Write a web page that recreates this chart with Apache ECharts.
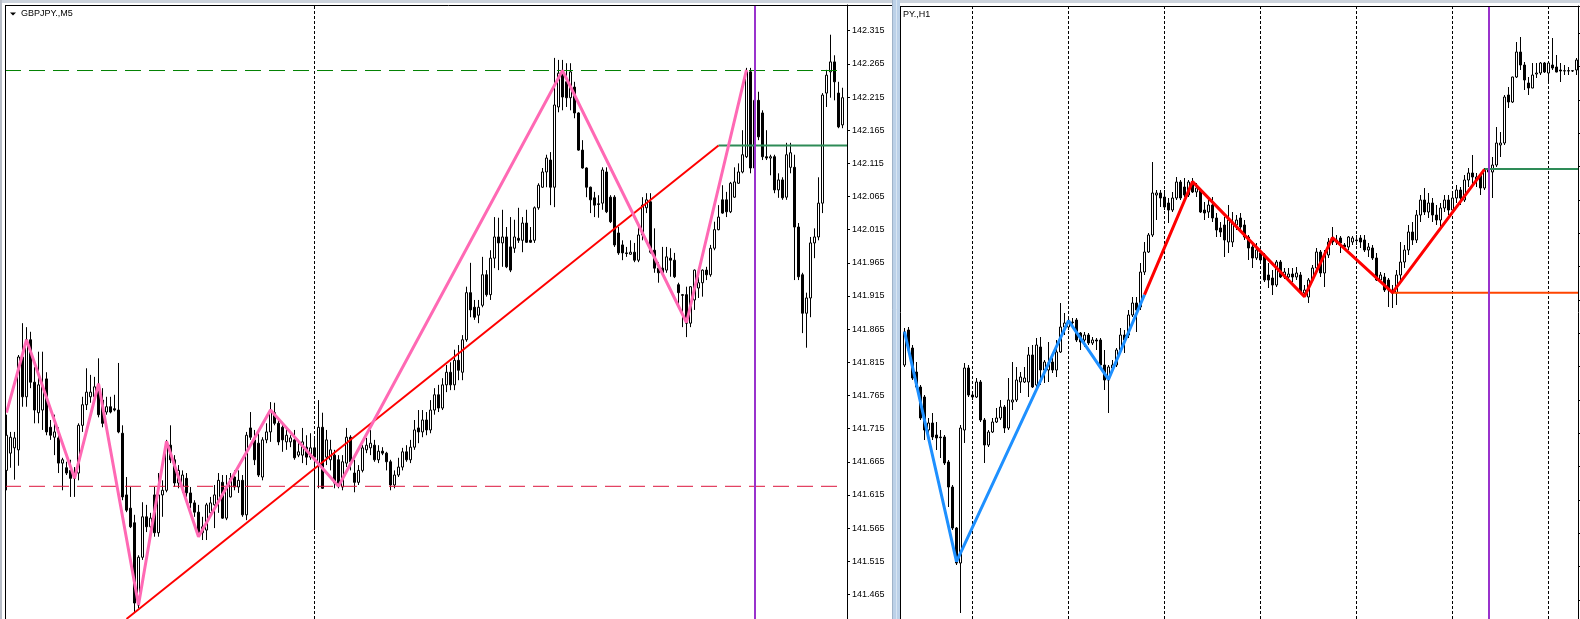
<!DOCTYPE html>
<html><head><meta charset="utf-8">
<script src="https://cdn.jsdelivr.net/npm/echarts@6/dist/echarts.min.js"></script>
<style>html,body{margin:0;padding:0;background:#fff;}#c{width:1580px;height:619px;}</style>
</head><body><div id="c"></div>
<script>
// ---------- LEFT PANEL: GBPJPY M5 ----------
const leftOpen = [141.652,141.678,141.686,141.683,141.823,141.763,141.849,141.785,141.739,141.743,141.790,141.717,141.702,141.701,141.663,141.656,141.652,141.640,141.648,141.720,141.751,141.763,141.763,141.781,141.758,141.740,141.748,141.745,141.743,141.708,141.615,141.595,141.573,141.449,141.521,141.582,141.567,141.615,141.558,141.615,141.622,141.690,141.668,141.633,141.627,141.640,141.618,141.603,141.589,141.558,141.562,141.588,141.600,141.607,141.634,141.580,141.612,141.642,141.627,141.637,141.585,141.716,141.698,141.693,141.642,141.698,141.710,141.739,141.723,141.717,141.695,141.695,141.698,141.675,141.675,141.687,141.672,141.686,141.663,141.717,141.672,141.668,141.675,141.668,141.627,141.663,141.702,141.648,141.634,141.652,141.683,141.686,141.690,141.668,141.681,141.678,141.665,141.630,141.645,141.657,141.680,141.668,141.687,141.716,141.710,141.728,141.713,141.743,141.766,141.746,141.781,141.800,141.781,141.818,141.800,141.849,141.920,141.898,141.886,141.901,141.947,141.917,141.972,142.004,141.995,142.004,141.989,141.987,142.002,141.999,142.025,141.999,141.999,142.048,142.079,142.102,142.120,142.079,142.200,142.251,142.238,142.214,142.230,142.191,142.135,142.108,142.079,142.063,142.054,142.055,142.102,142.064,142.064,142.010,141.992,141.980,141.978,141.981,141.969,142.007,142.048,142.057,141.984,141.957,141.957,141.954,141.972,141.969,141.932,141.917,141.917,141.874,141.909,141.927,141.935,141.954,141.947,141.987,142.015,142.060,142.060,142.042,142.064,142.085,142.102,142.125,142.253,142.108,142.210,142.191,142.125,142.123,142.125,142.075,142.090,142.064,142.109,142.109,142.019,141.947,141.889,141.912,141.995,142.004,142.055,142.221,142.253,142.268,142.221,142.173];
const leftClose = [141.705,141.702,141.701,141.823,141.763,141.849,141.785,141.743,141.781,141.779,141.710,141.705,141.710,141.663,141.668,141.648,141.640,141.648,141.720,141.751,141.770,141.770,141.778,141.736,141.723,141.748,141.740,141.743,141.710,141.612,141.592,141.567,141.452,141.521,141.582,141.567,141.580,141.558,141.615,141.622,141.690,141.668,141.633,141.652,141.645,141.618,141.603,141.589,141.558,141.567,141.600,141.603,141.615,141.637,141.580,141.627,141.640,141.627,141.637,141.585,141.705,141.702,141.668,141.645,141.698,141.710,141.743,141.723,141.695,141.698,141.705,141.701,141.671,141.680,141.695,141.672,141.686,141.672,141.717,141.625,141.698,141.683,141.633,141.630,141.665,141.702,141.665,141.634,141.652,141.686,141.690,141.693,141.668,141.681,141.678,141.665,141.630,141.645,141.657,141.680,141.668,141.687,141.713,141.710,141.728,141.713,141.743,141.766,141.746,141.781,141.800,141.781,141.818,141.803,141.849,141.920,141.894,141.883,141.898,141.947,141.917,141.972,142.004,141.995,142.004,141.959,141.954,142.004,141.999,142.025,141.996,141.996,142.048,142.082,142.102,142.123,142.079,142.203,142.251,142.215,142.214,142.253,142.191,142.135,142.108,142.079,142.060,142.052,142.053,142.105,142.042,142.027,141.992,141.980,141.980,141.979,141.981,141.969,142.007,142.052,142.060,141.981,141.957,141.950,141.950,141.974,141.969,141.944,141.920,141.916,141.874,141.929,141.954,141.935,141.954,141.947,141.987,142.015,142.034,142.040,142.042,142.085,142.087,142.102,142.128,142.253,142.108,142.210,142.155,142.125,142.123,142.125,142.075,142.090,142.063,142.128,142.131,142.019,141.944,141.889,141.912,141.995,142.004,142.055,142.218,142.248,142.268,142.238,142.170,142.214];
const leftLow = [141.622,141.656,141.638,141.659,141.748,141.748,141.776,141.723,141.723,141.713,141.705,141.698,141.675,141.648,141.622,141.645,141.612,141.612,141.637,141.710,141.743,141.754,141.758,141.732,141.717,141.736,141.738,141.741,141.708,141.607,141.589,141.565,141.438,141.444,141.517,141.559,141.552,141.552,141.552,141.582,141.619,141.663,141.627,141.625,141.618,141.612,141.595,141.582,141.552,141.547,141.547,141.582,141.565,141.588,141.579,141.577,141.611,141.622,141.618,141.582,141.577,141.698,141.660,141.642,141.637,141.693,141.695,141.720,141.690,141.680,141.683,141.687,141.668,141.672,141.663,141.660,141.668,141.562,141.625,141.624,141.660,141.652,141.625,141.625,141.622,141.657,141.652,141.619,141.630,141.649,141.678,141.675,141.665,141.663,141.675,141.652,141.622,141.625,141.642,141.652,141.665,141.663,141.683,141.693,141.702,141.705,141.708,141.736,141.740,141.743,141.770,141.773,141.773,141.788,141.788,141.846,141.883,141.879,141.874,141.898,141.914,141.909,141.957,141.954,141.959,141.957,141.951,141.980,141.995,141.981,141.995,141.995,141.995,142.045,142.078,142.079,142.052,142.049,142.192,142.195,142.200,142.195,142.183,142.134,142.107,142.064,142.040,142.034,142.033,142.045,142.040,142.025,141.989,141.977,141.969,141.974,141.977,141.966,141.966,141.999,142.040,141.979,141.950,141.935,141.949,141.950,141.944,141.942,141.898,141.868,141.853,141.868,141.894,141.912,141.914,141.939,141.944,141.984,142.014,142.039,142.034,142.040,142.063,142.084,142.100,142.123,142.100,142.105,142.150,142.120,142.120,142.097,142.070,142.063,142.060,142.060,142.100,141.939,141.939,141.859,141.837,141.883,141.972,141.999,142.040,142.200,142.214,142.210,142.168,142.168];
const leftHigh = [141.736,141.710,141.710,141.826,141.874,141.868,141.861,141.808,141.831,141.831,141.800,141.728,141.736,141.717,141.671,141.665,141.668,141.657,141.723,141.763,141.806,141.796,141.793,141.821,141.776,141.763,141.763,141.766,141.814,141.720,141.642,141.627,141.585,141.524,141.604,141.600,141.588,141.627,141.648,141.637,141.698,141.720,141.675,141.660,141.652,141.648,141.627,141.607,141.600,141.582,141.603,141.612,141.630,141.648,141.645,141.645,141.648,141.652,141.652,141.645,141.710,141.740,141.713,141.708,141.702,141.723,141.755,141.754,141.732,141.725,141.717,141.705,141.713,141.698,141.716,141.705,141.708,141.702,141.758,141.739,141.713,141.698,141.683,141.675,141.675,141.716,141.705,141.668,141.660,141.690,141.701,141.713,141.698,141.690,141.687,141.680,141.668,141.652,141.671,141.686,141.690,141.698,141.728,141.743,141.743,141.740,141.758,141.776,141.781,141.791,141.811,141.815,141.834,141.841,141.856,141.929,141.965,141.909,141.909,141.974,141.954,141.984,142.034,142.033,142.045,142.019,142.034,142.030,142.048,142.034,142.045,142.019,142.050,142.085,142.108,142.128,142.132,142.274,142.271,142.271,142.266,142.266,142.238,142.192,142.150,142.109,142.080,142.072,142.067,142.109,142.109,142.067,142.067,142.019,141.999,141.989,141.999,141.995,142.022,142.064,142.070,142.070,142.017,141.966,141.989,141.989,141.987,141.980,141.935,141.918,141.929,141.930,141.955,141.944,141.955,141.959,141.992,142.027,142.052,142.082,142.072,142.087,142.109,142.115,142.165,142.259,142.259,142.253,142.223,142.195,142.165,142.128,142.128,142.100,142.094,142.146,142.146,142.128,142.025,141.950,141.920,142.004,142.017,142.094,142.221,142.256,142.309,142.278,142.238,142.229];
const leftPriceTicks = [141.465,141.515,141.565,141.615,141.665,141.715,141.765,141.815,141.865,141.915,141.965,142.015,142.065,142.115,142.165,142.215,142.265,142.315];
const leftZigzag = [[0,141.739],[5,141.849],[17,141.640],[23,141.783],[33,141.449],[40,141.696],[48,141.552],[66,141.743],[83,141.628],[139,142.255],[170,141.875],[185,142.256]];
const leftTrend = [[30,141.428],[178,142.142]];
const leftLevelSolid = 142.142;   // green solid, from bar 178 to edge
const leftLevelHigh = 142.255;    // green dashed
const leftLevelLow = 141.628;     // red dashed
const leftSeparators = [77];
const leftMarker = [187];

// ---------- RIGHT PANEL: GBPJPY H1 ----------
const rightOpen = [141.505,141.610,141.556,141.484,141.439,141.409,141.310,141.331,141.295,141.289,141.289,141.214,141.139,141.016,140.911,141.310,141.496,141.415,141.409,141.454,141.340,141.265,141.304,141.334,141.346,141.379,141.316,141.394,141.400,141.454,141.454,141.454,141.535,141.445,141.559,141.490,141.490,141.514,141.490,141.544,141.619,141.619,141.634,141.640,141.601,141.580,141.595,141.571,141.580,141.580,141.505,141.460,141.496,141.505,141.550,141.595,141.595,141.655,141.691,141.679,141.784,141.844,141.895,142.015,142.021,142.009,141.991,141.970,142.006,142.054,142.039,142.015,142.054,142.024,142.030,141.970,141.964,141.985,141.946,141.916,141.925,141.874,141.874,141.925,141.946,141.925,141.889,141.859,141.826,141.841,141.835,141.775,141.766,141.745,141.814,141.769,141.769,141.778,141.769,141.775,141.721,141.709,141.760,141.796,141.844,141.781,141.835,141.886,141.874,141.886,141.865,141.859,141.874,141.880,141.886,141.880,141.850,141.856,141.826,141.760,141.769,141.760,141.730,141.721,141.775,141.814,141.850,141.904,141.880,141.955,142.000,141.964,141.991,141.955,141.940,141.976,142.000,141.970,142.006,142.030,142.000,142.060,142.081,142.060,142.075,142.036,142.093,142.084,142.105,142.165,142.171,142.315,142.294,142.369,142.444,142.405,142.351,142.336,142.378,142.381,142.411,142.381,142.405,142.399,142.390,142.387,142.388,142.387,142.390];
const rightClose = [141.604,141.550,141.466,141.439,141.346,141.310,141.331,141.289,141.286,141.287,141.211,141.139,141.016,140.911,141.316,141.496,141.415,141.409,141.454,141.340,141.265,141.304,141.334,141.346,141.379,141.316,141.400,141.400,141.460,141.469,141.466,141.535,141.439,141.565,141.490,141.514,141.511,141.490,141.544,141.619,141.631,141.634,141.632,141.580,141.574,141.595,141.571,141.580,141.577,141.505,141.460,141.499,141.505,141.550,141.595,141.580,141.655,141.691,141.670,141.784,141.844,141.895,142.021,142.021,142.006,141.979,141.970,142.006,142.054,142.006,142.015,142.054,142.024,142.036,141.964,141.961,141.985,141.946,141.910,141.904,141.880,141.940,141.934,141.940,141.919,141.889,141.856,141.826,141.850,141.820,141.760,141.760,141.745,141.814,141.769,141.784,141.778,141.769,141.781,141.724,141.730,141.760,141.796,141.844,141.781,141.835,141.874,141.874,141.880,141.871,141.859,141.889,141.886,141.878,141.874,141.850,141.859,141.826,141.760,141.775,141.730,141.730,141.721,141.775,141.814,141.850,141.904,141.880,141.955,142.000,141.964,141.991,141.955,141.940,141.976,142.000,141.970,142.006,142.030,142.006,142.060,142.081,142.069,142.069,142.036,142.090,142.084,142.105,142.171,142.171,142.309,142.294,142.369,142.444,142.405,142.360,142.336,142.375,142.381,142.411,142.384,142.411,142.396,142.384,142.387,142.388,142.387,142.388,142.420];
const rightLow = [141.499,141.541,141.460,141.436,141.340,141.280,141.280,141.280,141.250,141.226,141.205,141.079,141.010,140.905,140.761,141.271,141.409,141.400,141.406,141.334,141.211,141.259,141.301,141.331,141.340,141.301,141.310,141.370,141.394,141.421,141.451,141.409,141.436,141.439,141.445,141.451,141.454,141.481,141.469,141.541,141.595,141.610,141.616,141.574,141.550,141.559,141.565,141.565,141.550,141.499,141.430,141.361,141.490,141.499,141.544,141.541,141.586,141.649,141.604,141.670,141.775,141.841,141.889,141.940,141.979,141.970,141.931,141.964,142.000,142.000,142.009,142.009,142.021,142.009,141.961,141.940,141.946,141.934,141.889,141.889,141.829,141.841,141.859,141.910,141.910,141.880,141.820,141.796,141.820,141.814,141.754,141.736,141.715,141.739,141.766,141.763,141.760,141.754,141.760,141.721,141.709,141.691,141.754,141.784,141.769,141.739,141.826,141.865,141.865,141.841,141.850,141.850,141.865,141.865,141.856,141.844,141.829,141.820,141.757,141.751,141.724,141.679,141.676,141.685,141.760,141.796,141.835,141.865,141.871,141.934,141.955,141.946,141.934,141.925,141.916,141.964,141.955,141.961,141.991,141.985,141.994,142.039,142.039,142.039,142.015,142.030,142.000,142.006,142.099,142.129,142.165,142.276,142.291,142.366,142.390,142.330,142.315,142.335,142.366,142.375,142.381,142.354,142.390,142.383,142.354,142.375,142.375,142.384,142.375];
const rightHigh = [141.616,141.619,141.565,141.514,141.445,141.415,141.346,141.361,141.334,141.310,141.295,141.220,141.145,141.019,141.325,141.511,141.505,141.421,141.466,141.460,141.346,141.310,141.346,141.376,141.400,141.385,141.466,141.514,141.499,141.484,141.499,141.559,141.565,141.586,141.589,141.520,141.574,141.526,141.580,141.691,141.661,141.643,141.646,141.646,141.604,141.604,141.601,141.589,141.586,141.586,141.550,141.505,141.520,141.556,141.616,141.610,141.670,141.709,141.709,141.811,141.874,141.901,142.114,142.030,142.030,142.030,142.006,142.024,142.069,142.060,142.066,142.060,142.066,142.051,142.036,141.994,142.000,142.009,141.961,141.934,141.949,141.985,141.964,141.955,141.961,141.940,141.895,141.874,141.871,141.850,141.841,141.811,141.790,141.820,141.820,141.796,141.796,141.796,141.799,141.784,141.745,141.766,141.805,141.856,141.850,141.850,141.886,141.919,141.895,141.892,141.871,141.892,141.892,141.895,141.895,141.895,141.871,141.865,141.841,141.784,141.781,141.766,141.745,141.790,141.874,141.865,141.925,141.934,141.970,142.015,142.036,142.021,142.006,141.985,141.991,142.015,142.015,142.024,142.045,142.039,142.075,142.096,142.135,142.081,142.081,142.096,142.129,142.129,142.219,142.204,142.315,142.339,142.370,142.474,142.489,142.414,142.369,142.411,142.411,142.414,142.414,142.414,142.486,142.435,142.411,142.405,142.399,142.390,142.426];
const rightPriceTicks = [140.8,140.9,141.0,141.1,141.2,141.3,141.4,141.5,141.6,141.7,141.8,141.9,142.0,142.1,142.2,142.3,142.4,142.5];
const rightZigzagBlue = [[0,141.605],[13,140.915],[41,141.638],[51,141.462],[60,141.716]];
const rightZigzagRed = [[60,141.716],[72,142.055],[100,141.710],[107,141.887],[122,141.722],[145,142.092]];
const rightLevelGreen = 142.093;  // from bar 145
const rightLevelRed = 141.722;    // from bar 122
const rightSeparators = [17,41,65,89,113,137,161];
const rightMarker = [146];

// ---------- build ----------
const LX = [-0.375, 210.125];
const RX = [-0.875, 168.375];
const leftCandles = leftOpen.map((o, i) => [i, o, leftClose[i], leftLow[i], leftHigh[i]]);
const rightCandles = rightOpen.map((o, i) => [i, o, rightClose[i], rightLow[i], rightHigh[i]]);

const candleStyle = {color:'#ffffff', color0:'#000000', borderColor:'#000000', borderColor0:'#000000', borderColorDoji:'#000000', borderWidth:1};
function lineSeries(ax, data, color, width, dash, z) {
  return {type:'line', xAxisIndex:ax, yAxisIndex:ax, data:data, symbol:'none', showSymbol:false, silent:true, clip:true, z:z,
    lineStyle:{color:color, width:width, type:dash || 'solid'}, animation:false};
}
function vlines(ax, bars, color, width, dash, z) {
  return {type:'line', xAxisIndex:ax, yAxisIndex:ax, data:[], silent:true, z:z,
    markLine:{silent:true, symbol:['none','none'], animation:false, z:z, label:{show:false},
      lineStyle:{color:color, width:width, type:dash}, emphasis:{disabled:true},
      data:bars.map(b => ({xAxis:b}))}};
}
const font = 'Liberation Sans';
const chart = echarts.init(document.getElementById('c'), null, {renderer:'canvas'});
chart.setOption({
  animation:false,
  backgroundColor:'#ffffff',
  grid:[
    {left:5, top:5, width:842, height:614, show:false},
    {left:901, top:6, width:677, height:613, show:false}
  ],
  xAxis:[
    {type:'value', gridIndex:0, min:LX[0], max:LX[1], show:false},
    {type:'value', gridIndex:1, min:RX[0], max:RX[1], show:false}
  ],
  yAxis:[
    {type:'value', gridIndex:0, position:'right', min:141.4279, max:142.3538, scale:true,
     axisLine:{show:true, onZero:false, lineStyle:{color:'#000', width:1}},
     axisTick:{show:true, length:3, inside:false, customValues:leftPriceTicks, lineStyle:{color:'#000'}},
     axisLabel:{show:true, customValues:leftPriceTicks, margin:5, color:'#000', fontFamily:font, fontSize:9,
       formatter:v => Number(v).toFixed(3)},
     splitLine:{show:false}},
    {type:'value', gridIndex:1, position:'right', min:140.743, max:142.582, scale:true,
     axisLine:{show:true, onZero:false, lineStyle:{color:'#000', width:1}},
     axisTick:{show:true, length:3, inside:false, customValues:rightPriceTicks, lineStyle:{color:'#000'}},
     axisLabel:{show:false},
     splitLine:{show:false}}
  ],
  series:[
    vlines(0, leftSeparators, '#000', 1, [3,2], 1),
    vlines(1, rightSeparators, '#000', 1, [3,2], 1),
    {type:'candlestick', xAxisIndex:0, yAxisIndex:0, data:leftCandles, encode:{x:0, y:[1,2,3,4]},
     barWidth:2, itemStyle:candleStyle, clip:true, silent:true, z:2, animation:false},
    {type:'candlestick', xAxisIndex:1, yAxisIndex:1, data:rightCandles, encode:{x:0, y:[1,2,3,4]},
     barWidth:2, itemStyle:candleStyle, clip:true, silent:true, z:2, animation:false},
    lineSeries(0, [[LX[0], leftLevelHigh],[208, leftLevelHigh]], '#008000', 1, [16,8], 3),
    lineSeries(0, [[LX[0], leftLevelLow],[208.5, leftLevelLow]], '#dc143c', 1, [16,8], 3),
    lineSeries(0, [[178, leftLevelSolid],[LX[1], leftLevelSolid]], '#2e8b57', 2, 'solid', 3),
    lineSeries(0, leftTrend, '#ff0000', 2, 'solid', 4),
    lineSeries(0, leftZigzag, '#ff69b4', 3, 'solid', 5),
    lineSeries(1, [[145, rightLevelGreen],[RX[1], rightLevelGreen]], '#2e8b57', 2, 'solid', 3),
    lineSeries(1, [[122, rightLevelRed],[RX[1], rightLevelRed]], '#ff4500', 2, 'solid', 3),
    lineSeries(1, rightZigzagBlue, '#1e90ff', 3, 'solid', 5),
    lineSeries(1, rightZigzagRed, '#ff0000', 3, 'solid', 5),
    vlines(0, leftMarker, '#9932cc', 2, 'solid', 6),
    vlines(1, rightMarker, '#9932cc', 2, 'solid', 6)
  ],
  graphic:[
    {type:'rect', shape:{x:0, y:0, width:1580, height:3}, style:{fill:'#ccd3dc'}, silent:true, z:50},
    {type:'rect', shape:{x:0, y:0, width:2, height:619}, style:{fill:'#b8bec8'}, silent:true, z:50},
    {type:'line', shape:{x1:5, y1:5.5, x2:892, y2:5.5}, style:{stroke:'#000', lineWidth:1}, silent:true, z:50},
    {type:'line', shape:{x1:5.5, y1:5, x2:5.5, y2:619}, style:{stroke:'#000', lineWidth:1}, silent:true, z:50},
    {type:'rect', shape:{x:892, y:0, width:8, height:619}, style:{fill:'#bcd1e8'}, silent:true, z:50},
    {type:'line', shape:{x1:892.5, y1:0, x2:892.5, y2:619}, style:{stroke:'#9fb2c8', lineWidth:1}, silent:true, z:51},
    {type:'line', shape:{x1:896.5, y1:0, x2:896.5, y2:619}, style:{stroke:'#d8e5f3', lineWidth:1}, silent:true, z:51},
    {type:'line', shape:{x1:900.5, y1:6, x2:900.5, y2:619}, style:{stroke:'#000', lineWidth:1}, silent:true, z:51},
    {type:'line', shape:{x1:900, y1:6.5, x2:1580, y2:6.5}, style:{stroke:'#000', lineWidth:1}, silent:true, z:51},
    {type:'polygon', shape:{points:[[10,12.5],[16,12.5],[13,15.5]]}, style:{fill:'#000'}, silent:true, z:52},
    {type:'text', x:21, y:9, style:{text:'GBPJPY.,M5', font:'9px "Liberation Sans"', fill:'#000', textVerticalAlign:'top'}, silent:true, z:52},
    {type:'text', x:903, y:10, style:{text:'PY.,H1', font:'9px "Liberation Sans"', fill:'#000', textVerticalAlign:'top'}, silent:true, z:52}
  ]
});
</script></body></html>
